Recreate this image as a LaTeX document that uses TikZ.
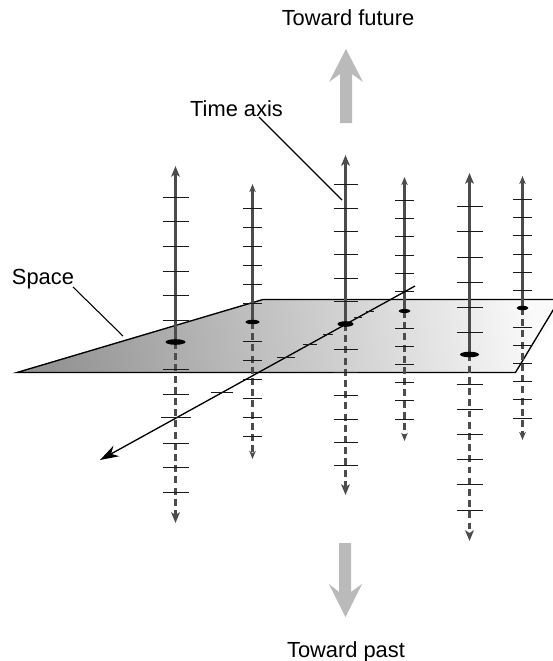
\documentclass[tikz,border=0pt]{standalone}
\usepackage{fontspec}
\setmainfont{Liberation Sans}
\usetikzlibrary{arrows.meta}
\definecolor{axisgray}{gray}{0.3}
\definecolor{tickgray}{gray}{0.1}
\definecolor{bigarrow}{gray}{0.73}
\tikzset{
  x=0.75pt,y=-0.75pt,
  label text/.style={inner sep=0pt,font=\fontsize{16.4pt}{20pt}\selectfont,text=black},
  axis solid/.style={draw=axisgray,line width=1.6pt},
  axis dashed/.style={draw=axisgray,line width=1.6pt,dash pattern=on 5.2pt off 3.2pt},
  tickmark/.style={draw=tickgray,line width=1.4pt},
  tipbig/.style={-{Stealth[length=8pt,width=6.5pt,inset=2pt]}},
  tipsmall/.style={-{Stealth[length=6pt,width=4.8pt,inset=1.6pt]}},
  leader/.style={draw=black,line width=0.8pt},
  big arrow/.style={fill=bigarrow,draw=none},
}
% \worldline{x}{top}{mid}{bottom}{halfwidth}{ellipse rx}{ellipse ry}{tip style}{tick ys}
\newcommand{\worldline}[9]{%
  \path[axis dashed,#8] (#1,#3) -- (#1,#4);
  \path[axis solid,#8] (#1,#3) -- (#1,#2);
  \foreach \ty in {#9} {\pgfmathsetmacro{\tyy}{floor(\ty)+0.5}\path[tickmark] (#1-#5,\tyy) -- (#1+#5,\tyy);}
  \fill[black] (#1,#3) ellipse [x radius=#6,y radius=#7];
}
\begin{document}
\begin{tikzpicture}
\useasboundingbox (0,0) rectangle (553,661);
% plane
\begin{scope}
\clip (0,0) rectangle (553,661);
\path[left color=black!42,right color=black!2,shading angle=100]
  (17,372) -- (263,299) -- (570,299) -- (515.5,372) -- cycle;
\draw[black,line width=1pt,line join=miter] (553,299.5) -- (263,299.5) -- (17,372.5) -- (515.5,372.5) -- (570,282);
\end{scope}
% world lines
\worldline{175.5}{166}{342}{523}{13}{10}{2.8}{tipbig}{197,221,246,271,295,320,369,394,443,467,492}
\worldline{252.5}{184}{322}{459}{9.5}{7}{2.2}{tipsmall}{208,227,246,265,284,303,341,360,379,398,417,436}
\worldline{345.5}{155}{324}{495}{12}{8}{2.8}{tipbig}{184,208,231,254.5,278,301,349,372,395,419,442,465}
\worldline{404.5}{177}{311}{441}{9.5}{6}{2}{tipsmall}{200,218,236.5,255,273,291,328,346,364,382,400,419}
\worldline{469.5}{173}{354.5}{541}{13}{9.5}{2.8}{tipbig}{206,231.5,257,282,307,332,384,409,434,459,484.5,510}
\worldline{522.5}{176}{308}{440}{9.5}{6}{2.2}{tipsmall}{199,217,235.5,254,272,290,327,345,363,381,399,418}
% space axis
\coordinate (sa) at (415,286);
\coordinate (sb) at (100,460);
\draw[black,line width=1pt,-{Stealth[length=14pt,width=9pt,inset=4.5pt]}] (sa) -- (sb);
\foreach \tx/\ty/\tw in {370/311.5/4,358/317.5/4,328/334.5/5,310/344.5/7,286/357.5/9,222/392.5/11,176/417.5/15}
  {\path[tickmark] (\tx-\tw,\ty) -- (\tx+\tw,\ty);}
% big arrows
\fill[big arrow] (340,123) -- (340,74) -- (329,82) -- (346,49) -- (363,82) -- (352,74) -- (352,123) -- cycle;
\fill[big arrow] (339,543) -- (339,592) -- (329,584) -- (345.5,617) -- (362,584) -- (351,592) -- (351,543) -- cycle;
% labels
\node[label text] (future) at (348,18) {Toward future};
\node[label text] (past) at (346,651.5) {Toward past};
\node[label text] (timelabel) at (236.5,109) {Time axis};
\node[label text] (spacelabel) at (43,279) {Space};
\coordinate (timeend) at (342,200);
\coordinate (spaceend) at (123,336);
\draw[leader] (259,117) -- (timeend);
\draw[leader] (73,287) -- (spaceend);
\end{tikzpicture}
\end{document}
